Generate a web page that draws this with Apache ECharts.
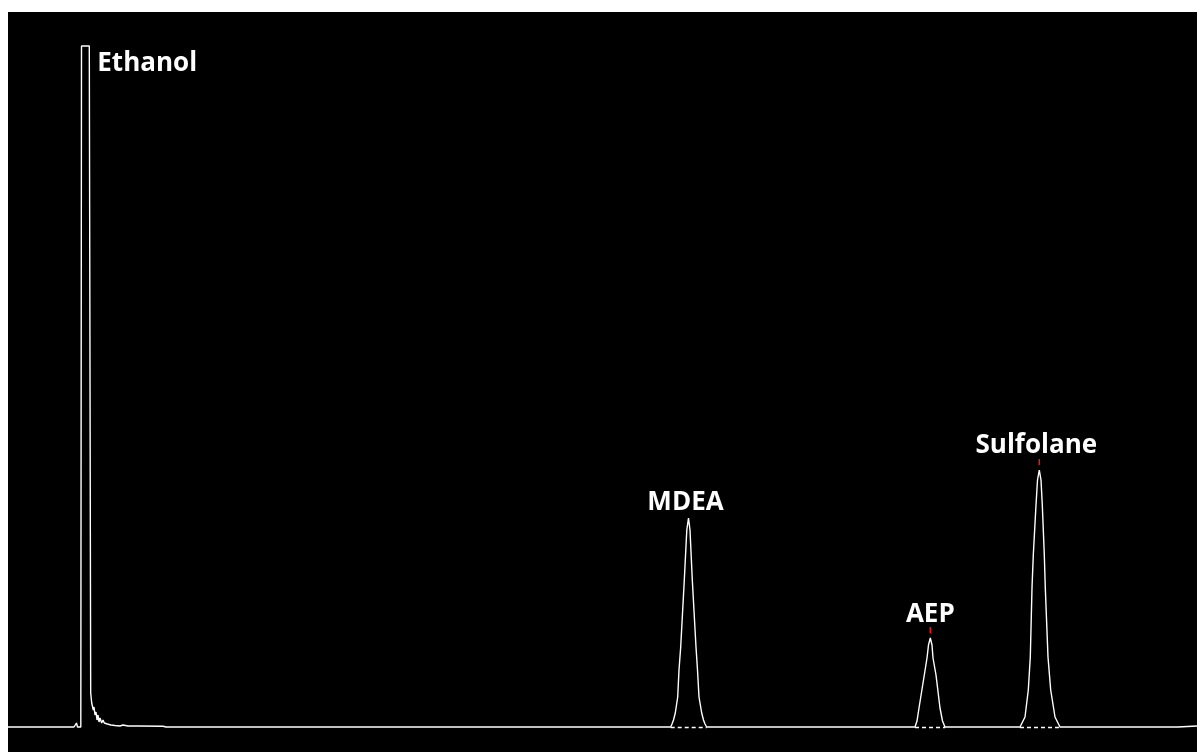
<!DOCTYPE html>
<html>
<head>
<meta charset="utf-8">
<title>Chromatogram</title>
<script src="https://cdn.jsdelivr.net/npm/echarts/dist/echarts.min.js"></script>
<style>
    html, body { margin: 0; padding: 0; background: #fff; }
    #chart { width: 1197px; height: 752px; }
</style>
</head>
<body>
<div id="chart"></div>
<script>
// retention time (min), detector signal
var ethanolTrace = [
    [0, 0], [0.66, 0], [0.685, 4], [0.695, 0], [0.728, 0], [0.735, 681], [0.813, 681],
    [0.827, 34], [0.837, 24], [0.847, 22], [0.853, 17], [0.86, 20], [0.87, 12], [0.88, 15],
    [0.89, 7], [0.90, 12], [0.91, 5], [0.92, 9], [0.937, 4], [0.95, 7], [0.963, 4],
    [0.977, 6], [0.993, 3], [1.01, 5], [1.03, 2], [1.05, 4], [1.07, 1.5], [1.09, 3],
    [1.12, 1], [1.15, 2], [1.2, 1], [1.29, 1], [1.55, 0.7], [1.58, 0]
];
var mdeaPeak = [
    [6.627, 0], [6.64, 3], [6.655, 7], [6.673, 14], [6.697, 30], [6.71, 57], [6.727, 80],
    [6.763, 147], [6.788, 197], [6.805, 209], [6.82, 197], [6.843, 147], [6.88, 80],
    [6.895, 57], [6.91, 30], [6.937, 14], [6.955, 7], [6.97, 3], [6.987, 0]
];
var aepPeak = [
    [9.07, 0], [9.09, 6], [9.11, 19], [9.163, 52], [9.19, 69], [9.205, 82], [9.223, 89],
    [9.24, 82], [9.25, 69], [9.28, 52], [9.32, 19], [9.345, 6], [9.37, 0]
];
var sulfolanePeak = [
    [10.12, 0], [10.17, 10], [10.203, 37], [10.223, 70], [10.24, 139], [10.253, 172],
    [10.28, 222], [10.295, 247], [10.313, 257], [10.33, 247], [10.343, 222], [10.363, 172],
    [10.373, 139], [10.40, 70], [10.427, 37], [10.47, 10], [10.52, 0]
];
var tailTrace = [[11.70, 0], [11.71, 1], [11.89, 1]];

var peakNames = ["Ethanol", "MDEA", "AEP", "Sulfolane"];
var peakApex = [[0.813, 681], [6.805, 209], [9.223, 89], [10.313, 257]];
var peakBase = [[6.627, 6.987], [9.07, 9.37], [10.12, 10.52]];
var apexTicks = [[9.223, 89], [10.313, 257]];

function buildTrace() {
    return ethanolTrace.concat(mdeaPeak, aepPeak, sulfolanePeak, tailTrace);
}

function loadChart() {
    var chart = echarts.init(document.getElementById("chart"));
    var labelData = [];
    for (var i = 0; i < peakNames.length; i++) {
        labelData.push({ name: peakNames[i], value: peakApex[i] });
    }
    var baseLines = [];
    for (var j = 0; j < peakBase.length; j++) {
        baseLines.push([{ coord: [peakBase[j][0], 0] }, { coord: [peakBase[j][1], 0] }]);
    }
    var option = {
        animation: false,
        backgroundColor: "#fff",
        grid: {
            left: 8, right: 0, top: 12, bottom: 0,
            show: true, backgroundColor: "#000", borderWidth: 0
        },
        xAxis: { type: "value", min: 0, max: 11.89, show: false },
        yAxis: { type: "value", min: -25, max: 715, show: false },
        series: [
            {
                type: "line",
                data: buildTrace(),
                showSymbol: false,
                lineStyle: { color: "#fff", width: 1.4 },
                markLine: {
                    silent: true,
                    symbol: "none",
                    label: { show: false },
                    lineStyle: { color: "#fff", width: 1.3, type: [4, 3] },
                    data: baseLines
                }
            },
            {
                type: "scatter",
                data: apexTicks,
                symbol: "rect",
                symbolSize: [1.5, 6],
                symbolOffset: [0, -8],
                itemStyle: { color: "#ff1010", opacity: 1 },
                silent: true
            },
            {
                type: "scatter",
                data: labelData,
                symbolSize: 0,
                silent: true,
                itemStyle: { opacity: 1 },
                label: {
                    show: true,
                    formatter: "{b}",
                    color: "#ffffff",
                    opacity: 1,
                    fontFamily: "Open Sans",
                    fontWeight: "bold",
                    fontSize: 26,
                    position: "top",
                    distance: 10
                },
                labelLayout: function (params) {
                    if (params.dataIndex === 0) {
                        return { x: params.rect.x + 8, y: params.rect.y + 5, align: "left", verticalAlign: "top" };
                    }
                    if (params.dataIndex === 1) {//MDEA 没有红色标记，标签更贴近峰顶
                        return { dx: -3, dy: 8 };
                    }
                    if (params.dataIndex === 3) {
                        return { dx: -3, dy: -1 };
                    }
                    return {};
                }
            }
        ]
    };
    chart.setOption(option);
}

loadChart();
</script>
</body>
</html>
